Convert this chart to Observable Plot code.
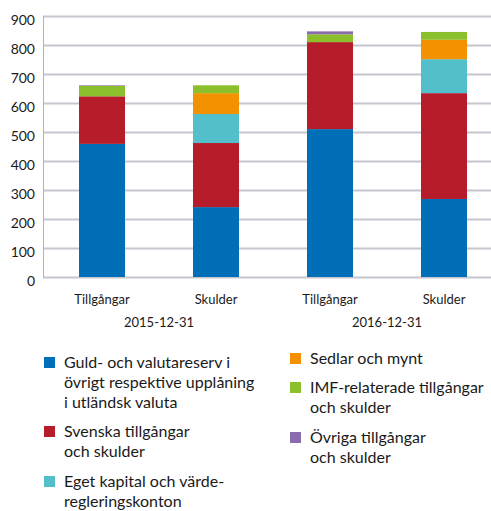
<!DOCTYPE html>
<html><head><meta charset="utf-8">
<script src="https://cdn.jsdelivr.net/npm/d3@7"></script>
<script src="https://cdn.jsdelivr.net/npm/@observablehq/plot@0.6"></script>
<style>
body{margin:0;background:#fff;font-family:Lato,"Open Sans",sans-serif;}
#legend{position:relative;height:176px;}
.li{position:absolute;display:flex;font-size:16px;line-height:20px;color:#1a1a1a;}
.sw{width:11px;height:11px;margin-top:5px;margin-right:9px;flex:none;}
</style></head><body>
<div id="chart"></div>
<div id="legend"></div>
<script>
const bars = ["T2015","S2015","T2016","S2016"];
const barLabels = ["Tillgångar","Skulder","Tillgångar","Skulder"];
const years = ["2015-12-31","2016-12-31"];
const series = ["Guld- och valutareserv i övrigt respektive upplåning i utländsk valuta",
  "Svenska tillgångar och skulder","Eget kapital och värderegleringskonton",
  "Sedlar och mynt","IMF-relaterade tillgångar och skulder","Övriga tillgångar och skulder"];
const legendLines = [
  ["Guld- och valutareserv i","övrigt respektive upplåning","i utländsk valuta"],
  ["Svenska tillgångar","och skulder"],
  ["Eget kapital och värde-","regleringskonton"],
  ["Sedlar och mynt"],
  ["IMF-relaterade tillgångar","och skulder"],
  ["Övriga tillgångar","och skulder"]];
const colors = ["#006fb7","#b71c2b","#52bfcb","#f39200","#8bbf2b","#8a6bad"];
const guld = [459, 241, 510, 269];
const svenska = [164, 221, 300, 365];
const eget = [0, 100, 0, 117];
const sedlar = [0, 72, 0, 67];
const imf = [36, 27, 27, 27];
const ovriga = [2, 0, 10, 0];
const yTicks = [0,100,200,300,400,500,600,700,800,900];

const vals = [guld, svenska, eget, sedlar, imf, ovriga];
const data = [];
series.forEach((s, i) => bars.forEach((b, j) => { if (vals[i][j] > 0) data.push({bar: b, series: s, value: vals[i][j]}); }));

const chart = Plot.plot({
  width: 491, height: 335,
  marginLeft: 43, marginRight: 0, marginTop: 16, marginBottom: 58,
  style: {fontFamily: "Lato, 'Open Sans', sans-serif", fontSize: "13px", color: "#1a1a1a", background: "#fff"},
  x: {domain: bars, range: [43, 502], paddingInner: 0.6, paddingOuter: 0.3, axis: null},
  y: {domain: [0, 900], axis: null},
  color: {domain: series, range: colors},
  marks: [
    Plot.ruleY(yTicks, {stroke: "#c6c6ce", strokeWidth: 2}),
    Plot.barY(data, {x: "bar", y: "value", fill: "series", order: series})
  ]
});
document.getElementById("chart").appendChild(chart);

const svg = d3.select(chart);
const xs = chart.scale("x"), ys = chart.scale("y");
const g = svg.append("g").attr("font-family", "Lato, 'Open Sans', sans-serif").attr("fill", "#1a1a1a");
yTicks.forEach(t => g.append("text").attr("x", 35).attr("y", ys.apply(t) + 9).attr("text-anchor", "end").attr("font-size", 14).text(t));
g.append("line").attr("x1", 43.5).attr("x2", 43.5).attr("y1", ys.apply(900)).attr("y2", ys.apply(0)).attr("stroke", "#b0b0c4");
bars.forEach((b, j) => g.append("text").attr("x", xs.apply(b) + xs.bandwidth / 2).attr("y", 304).attr("text-anchor", "middle").attr("font-size", 13).text(barLabels[j]));
years.forEach((y, k) => {
  const cx = (xs.apply(bars[2*k]) + xs.apply(bars[2*k+1]) + xs.bandwidth) / 2;
  g.append("text").attr("x", cx).attr("y", 327).attr("text-anchor", "middle").attr("font-size", 13).text(y);
});

const leg = document.getElementById("legend");
const pos = [[44, 17], [44, 86], [44, 136], [290, 13], [290, 42], [290, 92]];
legendLines.forEach((lines, i) => {
  const d = document.createElement("div");
  d.className = "li";
  d.style.left = pos[i][0] + "px"; d.style.top = pos[i][1] + "px";
  d.innerHTML = `<div class="sw" style="background:${colors[i]}"></div><div>${lines.join("<br>")}</div>`;
  leg.appendChild(d);
});
</script>
</body></html>
